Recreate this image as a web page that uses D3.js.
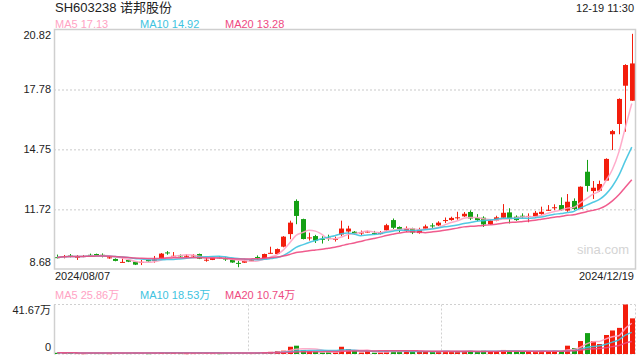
<!DOCTYPE html>
<html>
<head>
<meta charset="utf-8">
<script src="https://cdn.jsdelivr.net/npm/d3@7/dist/d3.min.js"></script>
<style>
  body { margin: 0; background: #fff; }
  svg { display: block; font-family: "Liberation Sans", Arial, "Noto Sans CJK SC", sans-serif; }
</style>
</head>
<body>
<svg id="kChart" width="640" height="360"></svg>
<script>
// ---- data ----
const stockName = "SH603238 诺邦股份";
const timeLabel = "12-19 11:30";

const dates = [
  "2024/08/07","2024/08/08","2024/08/09","2024/08/12","2024/08/13","2024/08/14","2024/08/15","2024/08/16","2024/08/19","2024/08/20",
  "2024/08/21","2024/08/22","2024/08/23","2024/08/26","2024/08/27","2024/08/28","2024/08/29","2024/08/30","2024/09/02","2024/09/03",
  "2024/09/04","2024/09/05","2024/09/06","2024/09/09","2024/09/10","2024/09/11","2024/09/12","2024/09/13","2024/09/18","2024/09/19",
  "2024/09/20","2024/09/23","2024/09/24","2024/09/25","2024/09/26","2024/09/27","2024/09/30","2024/10/08","2024/10/09","2024/10/10",
  "2024/10/11","2024/10/14","2024/10/15","2024/10/16","2024/10/17","2024/10/18","2024/10/21","2024/10/22","2024/10/23","2024/10/24",
  "2024/10/25","2024/10/28","2024/10/29","2024/10/30","2024/10/31","2024/11/01","2024/11/04","2024/11/05","2024/11/06","2024/11/07",
  "2024/11/08","2024/11/11","2024/11/12","2024/11/13","2024/11/14","2024/11/15","2024/11/18","2024/11/19","2024/11/20","2024/11/21",
  "2024/11/22","2024/11/25","2024/11/26","2024/11/27","2024/11/28","2024/11/29","2024/12/02","2024/12/03","2024/12/04","2024/12/05",
  "2024/12/06","2024/12/09","2024/12/10","2024/12/11","2024/12/12","2024/12/13","2024/12/16","2024/12/17","2024/12/18","2024/12/19"
];

const opens = [
  9.28, 9.29, 9.36, 9.27, 9.30, 9.40, 9.44, 9.40, 9.22, 9.19,
  9.02, 9.14, 9.05, 9.02, 9.14, 9.09, 9.23, 9.52, 9.32, 9.37,
  9.32, 9.34, 9.44, 9.12, 9.14, 9.27, 9.21, 9.15, 8.99, 9.00,
  9.10, 9.29, 9.19, 9.48, 9.44, 9.81, 10.45, 12.13, 11.21, 10.25,
  10.35, 10.21, 10.27, 10.18, 10.43, 10.58, 10.57, 10.50, 10.55, 10.50,
  10.45, 10.64, 11.16, 10.81, 10.61, 10.73, 10.50, 10.72, 10.89, 10.89,
  11.13, 11.16, 11.27, 11.35, 11.57, 11.27, 11.28, 10.95, 11.14, 11.28,
  11.55, 11.33, 11.38, 11.34, 11.33, 11.47, 11.66, 11.79, 11.92, 11.64,
  12.13, 11.73, 13.61, 12.63, 12.65, 13.16, 15.51, 16.03, 17.97, 17.21
];
const closes = [
  9.26, 9.33, 9.34, 9.30, 9.34, 9.38, 9.39, 9.38, 9.27, 9.09,
  9.04, 9.05, 8.90, 9.04, 9.07, 9.17, 9.46, 9.50, 9.35, 9.35,
  9.35, 9.37, 9.20, 9.15, 9.29, 9.23, 9.16, 9.01, 8.97, 9.10,
  9.13, 9.24, 9.44, 9.50, 9.69, 10.32, 11.03, 11.37, 10.20, 10.28,
  10.12, 10.19, 10.25, 10.21, 10.73, 10.73, 10.47, 10.53, 10.58, 10.48,
  10.55, 10.90, 10.77, 10.69, 10.73, 10.53, 10.67, 10.84, 10.87, 11.03,
  11.16, 11.27, 11.30, 11.48, 11.24, 11.16, 10.94, 11.14, 11.30, 11.53,
  11.21, 11.16, 11.37, 11.37, 11.53, 11.58, 11.68, 11.81, 11.67, 12.09,
  11.72, 12.85, 12.89, 12.80, 12.99, 14.26, 15.67, 17.30, 19.02, 19.10
];
const highs = [
  9.41, 9.39, 9.44, 9.39, 9.39, 9.46, 9.46, 9.47, 9.30, 9.22,
  9.25, 9.16, 9.06, 9.14, 9.15, 9.34, 9.49, 9.59, 9.54, 9.42,
  9.44, 9.44, 9.46, 9.27, 9.30, 9.34, 9.27, 9.17, 9.10, 9.15,
  9.17, 9.37, 9.46, 9.81, 9.72, 10.35, 11.13, 12.21, 11.23, 10.52,
  10.41, 10.34, 10.42, 10.32, 11.13, 10.87, 10.60, 10.63, 10.62, 10.61,
  10.60, 10.97, 11.24, 10.84, 10.84, 10.77, 10.77, 10.93, 11.00, 11.10,
  11.29, 11.33, 11.58, 11.57, 11.65, 11.46, 11.35, 11.18, 11.38, 11.97,
  11.76, 11.40, 11.50, 11.50, 11.62, 11.84, 11.92, 11.96, 12.31, 12.48,
  12.26, 12.87, 14.21, 13.14, 13.16, 14.29, 15.73, 17.33, 19.06, 20.60
];
const lows = [
  9.22, 9.22, 9.27, 9.14, 9.28, 9.30, 9.37, 9.27, 9.20, 9.07,
  9.01, 9.03, 8.88, 8.88, 9.05, 9.00, 9.22, 9.40, 9.27, 9.27,
  9.27, 9.27, 9.18, 9.05, 9.13, 9.19, 9.09, 8.99, 8.77, 8.99,
  9.08, 9.14, 9.17, 9.46, 9.41, 9.78, 10.19, 10.95, 10.18, 10.12,
  10.00, 9.97, 10.11, 10.07, 10.35, 10.20, 10.43, 10.40, 10.53, 10.41,
  10.43, 10.61, 10.71, 10.54, 10.56, 10.45, 10.47, 10.69, 10.75, 10.86,
  11.01, 11.13, 11.18, 11.32, 11.16, 11.11, 10.81, 10.92, 11.10, 11.25,
  10.99, 11.12, 11.25, 11.05, 11.28, 11.42, 11.62, 11.66, 11.62, 11.58,
  11.67, 11.71, 12.60, 12.23, 12.60, 13.14, 14.71, 15.51, 15.64, 17.20
];
// volume, unit 万
const volumes = [
  1.0, 0.9, 1.1, 0.8, 0.7, 0.9, 0.8, 0.8, 0.7, 0.9,
  1.0, 0.8, 1.1, 0.9, 0.7, 1.0, 1.6, 1.2, 1.0, 0.8,
  0.7, 0.8, 1.0, 0.9, 0.8, 0.7, 0.8, 0.9, 1.2, 1.0,
  0.8, 0.9, 1.5, 1.8, 2.5, 2.8, 6.1, 7.0, 3.4, 2.5,
  2.0, 1.1, 1.3, 1.3, 6.1, 4.2, 2.5, 1.2, 2.4, 1.1,
  1.4, 2.6, 2.7, 2.3, 2.2, 2.4, 2.5, 1.9, 2.0, 1.8,
  2.1, 2.2, 2.4, 2.3, 2.6, 2.0, 2.8, 2.2, 2.5, 3.4,
  2.6, 2.0, 1.8, 2.2, 2.3, 2.6, 2.4, 2.5, 2.0, 7.0,
  5.0, 10.9, 17.6, 10.9, 8.4, 16.0, 19.8, 22.0, 41.67, 30.0
];

const priceTicks = [8.68, 11.715, 14.75, 17.785, 20.82];
const priceTickLabels = ["8.68", "11.72", "14.75", "17.78", "20.82"];
const volTicks = [0, 41.67];
const volTickLabels = ["0", "41.67万"];

const maNames = ["MA5", "MA10", "MA20"];
const maPeriods = [5, 10, 20];
const maLabels = ["17.13", "14.92", "13.28"];
const volMaLabels = ["25.86万", "18.53万", "10.74万"];

// ---- style ----
const maColors = ["#ffa3c4", "#3ec3e0", "#ee4a82"];
const upColor = "#f31d0c";
const downColor = "#14a014";

const plotL = 54, plotR = 635, plotT = 29.5, plotB = 269;
const volT = 304.5, volB = 354;

const svg = d3.select("#kChart");

const xScale = d3.scaleBand()
  .domain(dates)
  .range([plotL, plotR])
  .paddingInner(0.22)
  .paddingOuter(0.11);

const yScale = d3.scaleLinear()
  .domain([priceTicks[0], priceTicks[priceTicks.length - 1]])
  .range([plotB, plotT]);

const vScale = d3.scaleLinear()
  .domain([volTicks[0], volTicks[1]])
  .range([volB, volT]);

function movingAvg(values, n) {
  return values.map((v, i) => d3.mean(values.slice(Math.max(0, i - n + 1), i + 1)));
}

function colorOf(i) {
  return closes[i] >= opens[i] ? upColor : downColor;
}

const cx = d => xScale(d) + xScale.bandwidth() / 2;

// title + time
svg.append("text")
  .attr("x", 55).attr("y", 12)
  .attr("font-size", 13).attr("fill", "#222")
  .text(stockName);

svg.append("text")
  .attr("x", 634).attr("y", 12)
  .attr("text-anchor", "end")
  .attr("font-size", 11).attr("fill", "#222")
  .text(timeLabel);

// legends
const legendX = [55, 140, 225];
maNames.forEach((name, k) => {
  svg.append("text")
    .attr("x", legendX[k]).attr("y", 28)
    .attr("font-size", 11).attr("fill", maColors[k])
    .text(name + " " + maLabels[k]);
  svg.append("text")
    .attr("x", legendX[k]).attr("y", 299)
    .attr("font-size", 11).attr("fill", maColors[k])
    .text(name + " " + volMaLabels[k]);
});

// main panel grid
const yGrid = d3.axisLeft(yScale)
  .tickValues(priceTicks.slice(1, -1))
  .tickSize(-(plotR - plotL))
  .tickFormat("");

svg.append("g")
  .attr("transform", `translate(${plotL},0)`)
  .call(yGrid)
  .call(g => g.select(".domain").remove())
  .call(g => g.selectAll("line")
    .attr("stroke", "#dcdcdc")
    .attr("stroke-width", 1.5)
    .attr("stroke-dasharray", "2,2"));

// y axis labels
const yAxis = d3.axisLeft(yScale)
  .tickValues(priceTicks)
  .tickSize(0)
  .tickPadding(3)
  .tickFormat((d, i) => priceTickLabels[i]);

svg.append("g")
  .attr("transform", `translate(${plotL},0)`)
  .call(yAxis)
  .call(g => g.select(".domain").remove())
  .call(g => g.selectAll("text")
    .attr("font-size", 11)
    .attr("font-family", "Liberation Sans, Arial, sans-serif")
    .attr("fill", "#222")
    .attr("dy", (d, i) => i === 0 ? "-0.3em" : (i === priceTicks.length - 1 ? "0.85em" : "0.32em")));

// watermark
svg.append("text")
  .attr("x", 603).attr("y", 254)
  .attr("text-anchor", "middle")
  .attr("font-size", 13).attr("fill", "#d4d4d4")
  .text("sina.com");

// candles
const candle = svg.append("g")
  .selectAll("g")
  .data(dates)
  .enter()
  .append("g");

candle.append("line")
  .attr("x1", d => Math.round(cx(d)) + 0.5)
  .attr("x2", d => Math.round(cx(d)) + 0.5)
  .attr("y1", (d, i) => yScale(highs[i]))
  .attr("y2", (d, i) => yScale(lows[i]))
  .attr("stroke", (d, i) => colorOf(i))
  .attr("stroke-width", 1);

candle.append("rect")
  .attr("x", d => Math.round(cx(d)) + 0.5 - 2.5)
  .attr("width", 5)
  .attr("y", (d, i) => yScale(Math.max(opens[i], closes[i])))
  .attr("height", (d, i) => Math.max(1, Math.abs(yScale(opens[i]) - yScale(closes[i]))))
  .attr("fill", (d, i) => colorOf(i));

// MA lines on price
const lineP = d3.line()
  .x((v, i) => cx(dates[i]))
  .y(v => yScale(v))
  .curve(d3.curveMonotoneX);

maPeriods.forEach((n, k) => {
  svg.append("path")
    .datum(movingAvg(closes, n))
    .attr("d", lineP)
    .attr("fill", "none")
    .attr("stroke", maColors[k])
    .attr("stroke-width", 1.5)
    .attr("opacity", 0.9);
});

// main panel border
svg.append("rect")
  .attr("x", plotL + 0.5).attr("y", plotT)
  .attr("width", plotR - plotL).attr("height", plotB - plotT)
  .attr("fill", "none")
  .attr("stroke", "#cfcfcf")
  .attr("stroke-width", 1.5);

// date labels
svg.append("text")
  .attr("x", 55).attr("y", 280)
  .attr("font-size", 11).attr("fill", "#222")
  .text(dates[0]);
svg.append("text")
  .attr("x", 634).attr("y", 280)
  .attr("text-anchor", "end")
  .attr("font-size", 11).attr("fill", "#222")
  .text(dates[dates.length - 1]);

// ---- volume panel ----
const vFrame = svg.append("g")
  .attr("fill", "none")
  .attr("stroke", "#d0d0d0")
  .attr("stroke-width", 1);

[volT, volB].forEach(yy => {
  vFrame.append("line")
    .attr("x1", plotL).attr("x2", plotR)
    .attr("y1", yy).attr("y2", yy)
    .attr("stroke-dasharray", "2,2");
});
[plotL + (plotR - plotL) / 3, plotL + 2 * (plotR - plotL) / 3, plotR].forEach(xx => {
  vFrame.append("line")
    .attr("x1", Math.round(xx) + 0.5).attr("x2", Math.round(xx) + 0.5)
    .attr("y1", volT).attr("y2", volB)
    .attr("stroke-dasharray", "2,2");
});
vFrame.append("line")
  .attr("x1", plotL + 0.5).attr("x2", plotL + 0.5)
  .attr("y1", volT).attr("y2", volB)
  .attr("stroke-width", 1.5);

const vAxis = d3.axisLeft(vScale)
  .tickValues(volTicks)
  .tickSize(0)
  .tickPadding(3)
  .tickFormat((d, i) => volTickLabels[i]);

svg.append("g")
  .attr("transform", `translate(${plotL},0)`)
  .call(vAxis)
  .call(g => g.select(".domain").remove())
  .call(g => g.selectAll("text")
    .attr("font-size", 11)
    .attr("font-family", "Liberation Sans, Arial, Noto Sans CJK SC, sans-serif")
    .attr("fill", "#222")
    .attr("dy", (d, i) => i === 0 ? "-0.3em" : "0.85em"));

svg.append("g")
  .selectAll("rect")
  .data(dates)
  .enter()
  .append("rect")
  .attr("x", d => Math.round(cx(d)) + 0.5 - 2.5)
  .attr("width", 5)
  .attr("y", (d, i) => vScale(volumes[i]))
  .attr("height", (d, i) => Math.max(1, volB - vScale(volumes[i])))
  .attr("fill", (d, i) => colorOf(i));

const lineV = d3.line()
  .x((v, i) => cx(dates[i]))
  .y(v => vScale(v))
  .curve(d3.curveMonotoneX);

maPeriods.forEach((n, k) => {
  svg.append("path")
    .datum(movingAvg(volumes, n))
    .attr("d", lineV)
    .attr("fill", "none")
    .attr("stroke", maColors[k])
    .attr("stroke-width", 1.5)
    .attr("opacity", 0.9);
});
</script>
</body>
</html>
